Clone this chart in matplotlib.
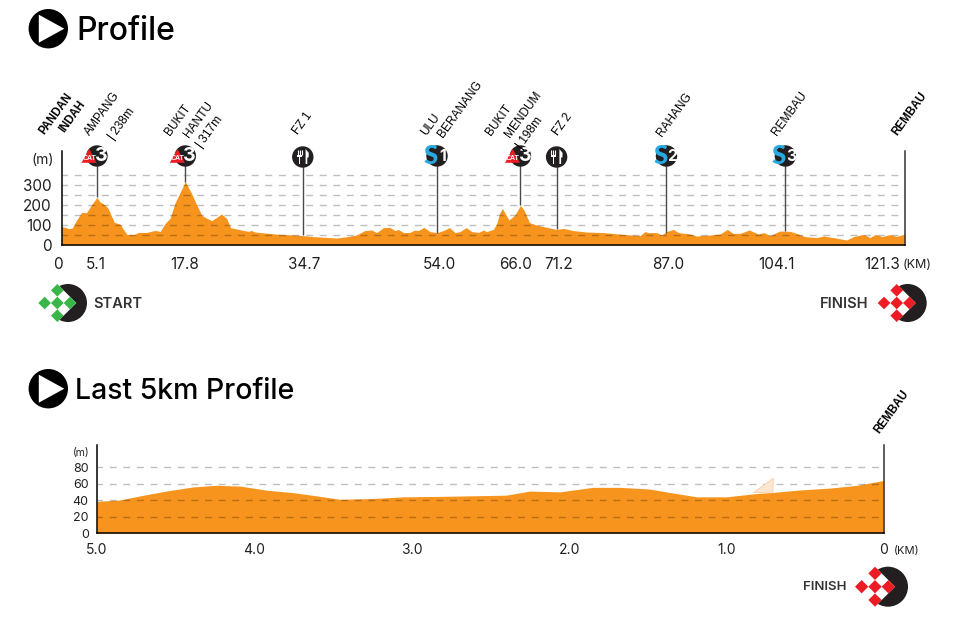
import matplotlib
matplotlib.use("Agg")
import matplotlib.pyplot as plt
from matplotlib.patches import Circle, Polygon, Rectangle

plt.rcParams['font.family'] = ['Inter', 'Lato', 'DejaVu Sans']

# ---------- data ----------
km_full = [0, 0.5, 1.08, 1.56, 2.04, 2.9, 3.6, 4.3, 5.1, 5.5, 6.25, 6.7, 7.6, 8.4, 8.9, 9.4, 10.5, 11.05,
           12.25, 13.45, 14.2, 14.9, 15.6, 16.3, 17.8, 18.7, 19.45, 20.2, 21.1, 21.6, 22.1, 23, 23.75, 24.3,
           25.2, 26.15, 26.9, 27.25, 27.8, 29.25, 30.7, 32.4, 34.65, 36.2, 39.6, 41.2, 42.4, 43.6, 44.6, 45.3,
           46.3, 47.2, 48, 48.4, 49.2, 50.1, 50.8, 51.3, 52.1, 53, 54, 54.9, 55.8, 56.6, 57.3, 58.2, 59, 60,
           60.7, 61.1, 62.1, 62.6, 63, 63.4, 63.8, 64.35, 65.2, 66.0, 66.5, 67.3, 68.3, 69.8, 71.2, 72.2, 73.6,
           75.5, 77.9, 80.8, 83.2, 83.9, 84.4, 85.6, 86.3, 87, 88, 88.7, 90.4, 91.3, 92.1, 93.3, 94.7, 95.75,
           96.6, 97.6, 98.9, 100.2, 101, 101.9, 103.3, 104.8, 105.7, 106.9, 108.6, 109.55, 111, 112.9, 113.9,
           115.3, 116.3, 117, 118, 119.1, 120.1, 121.3]
elev_full = [92, 88, 82, 85, 117, 163, 162, 200, 238, 217, 200, 183, 113, 105, 78, 53, 53, 63,
             63, 73, 68, 108, 133, 208, 317, 258, 200, 147, 130, 122, 133, 155, 133, 87,
             80, 73, 68, 73, 65, 60, 55, 52, 47, 42, 35, 42, 50, 72, 75, 62,
             87, 88, 72, 78, 62, 63, 75, 72, 88, 67, 62, 72, 87, 62, 67, 87, 67, 63,
             75, 67, 78, 108, 158, 183, 158, 125, 150, 198, 175, 112, 100, 88, 78, 83, 72,
             65, 62, 53, 47, 67, 62, 62, 50, 67, 78, 62, 55, 45, 47, 50, 55, 78,
             58, 58, 75, 55, 62, 47, 70, 68, 58, 42, 37, 45, 37, 25, 42,
             53, 37, 53, 42, 52, 43, 55]
yticks_full = [0, 100, 200, 300]
grid_full = [50, 100, 150, 200, 250, 300, 350]
xticks_full = [0, 5.1, 17.8, 34.7, 54.0, 66.0, 71.2, 87.0, 104.1, 121.3]
xtick_labels_full = ['0', '5.1', '17.8', '34.7', '54.0', '66.0', '71.2', '87.0', '104.1', '121.3']
climb_km = [5.1, 17.8, 66.0]
climb_elev = [238, 317, 198]
feed_km = [34.7, 71.2]
feed_elev = [50, 78]
sprint_km = [54.0, 87.0, 104.1]
sprint_elev = [62, 62, 68]
sprint_nums = ['1', '2', '3']

km_last = [5.0, 4.86, 4.73, 4.56, 4.39, 4.24, 4.09, 3.92, 3.75, 3.6, 3.456, 3.24, 3.05, 2.82, 2.567, 2.4,
           2.25, 2.06, 1.85, 1.68, 1.49, 1.34, 1.19, 1.0, 0.81, 0.7, 0.555, 0.34, 0.17, 0]
elev_last = [38.5, 40, 45, 51, 56, 58, 57, 52, 49, 45, 41, 42, 44, 44.5, 45.4, 46,
             51, 50, 55.5, 55.5, 53.5, 48.6, 44, 44, 48, 49.4, 52, 54.7, 58, 64]
yticks_last = [0, 20, 40, 60, 80]
grid_last = [20, 40, 60, 80]
xticks_last = [5.0, 4.0, 3.0, 2.0, 1.0, 0]
xtick_labels_last = ['5.0', '4.0', '3.0', '2.0', '1.0', '0']

# ---------- style ----------
W, H = 969, 619
ORANGE = '#f7941e'
DARK = '#231f20'
RED = '#ed1c24'
GREEN = '#39b54a'
BLUE = '#27a9e1'
GRID = (0, 0, 0, 0.25)
NARROW = ['Liberation Sans', 'DejaVu Sans']

fig = plt.figure(figsize=(W / 100, H / 100), dpi=100, facecolor='white')


def axes_px(left, right, top, bottom):
    return fig.add_axes([left / W, 1 - bottom / H, (right - left) / W, (bottom - top) / H])


def style(ax, km, elev, grid, yticks, ylabels_size, ypad):
    ax.fill_between(km, 0, elev, color=ORANGE, lw=0, zorder=1)
    for g in grid:
        ax.axhline(g, color=GRID, lw=1.0, ls=(1, (5.0, 4.8)), zorder=2)
    ax.spines['top'].set_visible(False)
    for s in ('left', 'bottom'):
        ax.spines[s].set_color('black')
        ax.spines[s].set_linewidth(1.1)
    ax.spines['right'].set_color('#333333')
    ax.spines['right'].set_linewidth(1.1)
    ax.set_yticks(yticks)
    ax.set_yticklabels([str(t) for t in yticks], fontsize=ylabels_size, color=DARK)
    ax.tick_params(axis='y', length=0, pad=ypad)
    ax.set_xticks([])
    ax.patch.set_alpha(0)


# ---------- main profile ----------
ax1 = axes_px(61.5, 905, 151, 245)
ax1.set_xlim(0, 121.3)
ax1.set_ylim(0, 470)
style(ax1, km_full, elev_full, grid_full, yticks_full, 11, 7)
stem_top = 445
ax1.vlines(climb_km + feed_km + sprint_km, climb_elev + feed_elev + sprint_elev, stem_top,
           color='#4a4a4a', lw=1.0, zorder=3)
x_offsets_full = [-2.5, -0.7, -0.3, 1, 1.5, -3.5, 1.7, 1, -6.2, -16.3]
for k, lab, dx in zip(xticks_full, xtick_labels_full, x_offsets_full):
    ax1.annotate(lab, xy=(k, 0), xycoords='data', xytext=(dx, -14.2), textcoords='offset points',
                 ha='center', va='center', fontsize=11, color=DARK)

# ---------- last 5 km ----------
ax2 = axes_px(97, 884, 445, 533)
ax2.set_xlim(5.0, 0)
ax2.set_ylim(0, 107)
style(ax2, km_last, elev_last, grid_last, yticks_last, 9, 6)
for k, lab in zip(xticks_last, xtick_labels_last):
    ax2.annotate(lab, xy=(k, 0), xycoords='data', xytext=(0, -12.5), textcoords='offset points',
                 ha='center', va='center', fontsize=10, color=DARK)

# ---------- overlay in pixel coordinates (titles, badges, labels) ----------
ov = fig.add_axes([0, 0, 1, 1], zorder=5)
ov.set_xlim(0, W)
ov.set_ylim(H, 0)
ov.axis('off')
ov.patch.set_alpha(0)


def play(cx, cy):
    ov.add_patch(Circle((cx, cy), 19.7, color='black', lw=0))
    ov.add_patch(Polygon([(cx - 9.5, cy - 14), (cx + 16, cy), (cx - 9.5, cy + 14)], color='white', lw=0))


play(48.3, 28.7)
ov.text(76, 39.5, 'Profile', fontsize=23, fontweight='medium', color='black', va='baseline')
play(48.3, 388.7)
ov.text(75.5, 398.7, 'Last 5km Profile', fontsize=20.5, fontweight='medium', color='black', va='baseline')

ov.text(54, 160, '(m)', ha='right', va='center', fontsize=10, color=DARK)
ov.text(90, 453, '(m)', ha='right', va='center', fontsize=7.5, color=DARK)
ov.text(903, 265, '(KM)', ha='left', va='center', fontsize=9, color=DARK)
ov.text(894, 551, '(KM)', ha='left', va='center', fontsize=8, color=DARK)


def flag(dcx, dcy, ccx, r, colour):
    ov.add_patch(Circle((ccx, dcy), r, color=DARK, lw=0))
    d = r
    ov.add_patch(Polygon([(dcx, dcy - d), (dcx + d, dcy), (dcx, dcy + d), (dcx - d, dcy)], color='white', lw=0))
    s = d / 3
    for i in (-1, 0, 1):
        for j in (-1, 0, 1):
            if (i + j) % 2 == 0:
                x = dcx + (i - j) * s
                y = dcy + (i + j) * s
                ov.add_patch(Polygon([(x, y - s), (x + s, y), (x, y + s), (x - s, y)], color=colour, lw=0))


flag(57.3, 303, 68, 19, GREEN)
ov.text(93, 303.5, 'START', va='center', fontsize=10.5, fontweight='semibold', color='#333333')
flag(896.7, 303, 907.7, 19, RED)
ov.text(869, 303.5, 'FINISH', ha='right', va='center', fontsize=10.5, fontweight='semibold', color='#333333')
flag(875, 586.7, 888, 20, RED)
ov.text(847, 587, 'FINISH', ha='right', va='center', fontsize=9.5, fontweight='semibold', color='#333333')


def km_px(k):
    return 61.5 + k * 843.5 / 121.3


BY = 156


def cat_badge(k):
    cx = km_px(k)
    ov.add_patch(Circle((cx, BY), 10.7, color=DARK, lw=0))
    ov.add_patch(Polygon([(cx - 7.7, BY - 7), (cx - 15.5, BY + 6.8), (cx - 0.5, BY + 6.8)], color=RED, lw=0))
    ov.text(cx + 4.5, BY, '3', color='white', fontsize=14, fontweight='bold', ha='center', va='center')
    ov.text(cx - 7.8, BY + 2.6, 'CAT', color='white', fontsize=5, fontweight='bold', ha='center', va='center',
            family=NARROW)


def sprint_badge(k, num):
    cx = km_px(k)
    ov.add_patch(Circle((cx, BY), 10.7, color=DARK, lw=0))
    ov.text(cx + 5.8, BY + 0.5, num, color='white', fontsize=11.5, fontweight='bold', ha='center', va='center')
    ov.text(cx - 6.3, BY - 0.3, 'S', color=BLUE, fontsize=18.5, fontweight='black', ha='center', va='center',
            family=['Lato', 'DejaVu Sans'])


def feed_badge(k):
    cx = km_px(k)
    ov.add_patch(Circle((cx, BY + 1), 10.7, color=DARK, lw=0))
    fx = cx - 3.2
    for dx in (-2, 0, 2):
        ov.plot([fx + dx, fx + dx], [BY - 6.5, BY - 1], color='white', lw=0.8, solid_capstyle='butt')
    ov.add_patch(Rectangle((fx - 2.4, BY - 1.5), 4.8, 2, color='white', lw=0))
    ov.add_patch(Rectangle((fx - 0.9, BY), 1.8, 8, color='white', lw=0))
    kx = cx + 2.8
    ov.add_patch(Polygon([(kx, BY - 7), (kx + 3.2, BY - 3), (kx + 3, BY + 1.5), (kx + 1.7, BY + 1.5),
                          (kx + 1.7, BY + 8), (kx, BY + 8)], color='white', lw=0))


for k in climb_km:
    cat_badge(k)
for k, n in zip(sprint_km, sprint_nums):
    sprint_badge(k, n)
for k in feed_km:
    feed_badge(k)

ANGLE = 54
labels = [
    ('PANDAN', 41.7, 133.3, True), ('INDAH', 62.3, 131, True),
    ('AMPANG', 87.3, 134, False), ('| 238m', 111, 138.3, False),
    ('BUKIT', 167.7, 134, False), ('HANTU', 186.7, 136.7, False), ('| 317m', 199, 146.7, False),
    ('FZ 1', 295.7, 133.3, False),
    ('ULU', 423.3, 134, False), ('BERANANG', 441, 136, False),
    ('BUKIT', 489, 134, False), ('MENDUM', 507.3, 136.7, False), ('| 198m', 519.3, 147.3, False),
    ('FZ 2', 556, 134, False),
    ('RAHANG', 659.3, 135, False), ('REMBAU', 775, 134, False),
    ('REMBAU', 895, 134, True), ('REMBAU', 877.3, 432.3, True),
]
for txt, x, y, bold in labels:
    ov.text(x, y, txt, rotation=ANGLE, rotation_mode='anchor', ha='left', va='center',
            fontsize=8.3 if bold else 8.6, family=NARROW, fontweight='bold' if bold else 'normal', color='black')

ov.add_patch(Polygon([(753.3, 492.7), (773.3, 478.3), (773, 492)], facecolor='#fbe6d2', edgecolor='#f6cfa8', lw=0.6))

fig.savefig('out.png', dpi=100, facecolor='white')
